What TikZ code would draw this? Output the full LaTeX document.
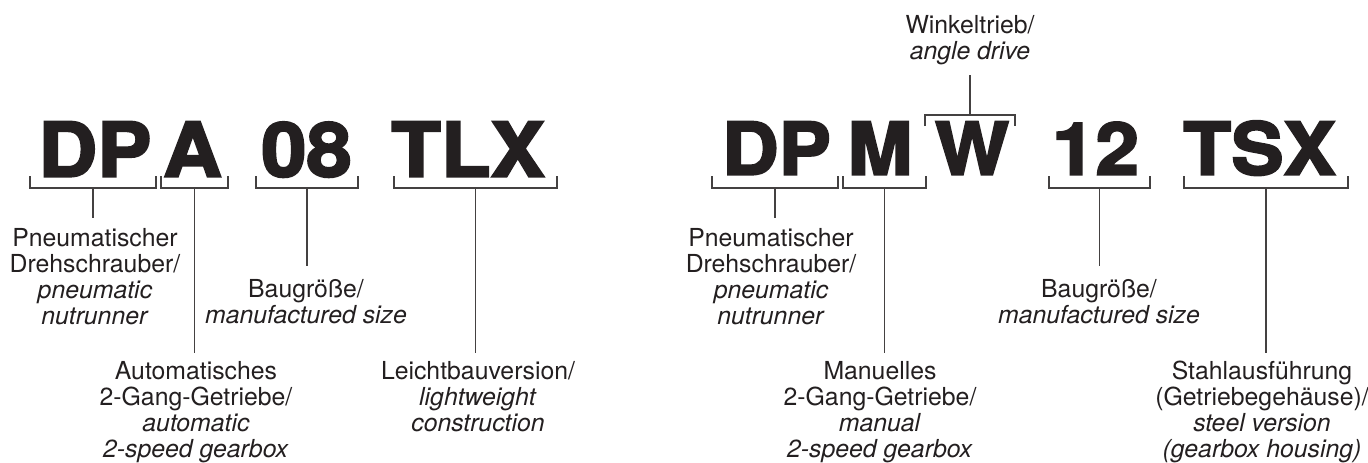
\documentclass[tikz,border=0pt]{standalone}
\usepackage{fontspec}
\setmainfont{TeX Gyre Heros}
\newfontfamily\codefont[FakeStretch=1.08,FakeBold=3]{texgyreheros-bold.otf}
\definecolor{ink}{HTML}{231F20}
\tikzset{
  code/.style={font=\codefont\fontsize{37.6}{40}\selectfont, inner sep=0pt, anchor=base, text=ink},
  coder/.style={code, font=\codefont\fontsize{36.2}{40}\selectfont},
  lbl/.style={align=center, inner sep=0pt, anchor=north, text=ink, font=\fontsize{12.4}{13}\selectfont},
  brk/.style={draw=ink!85, line width=0.6pt},
}
\begin{document}
\begin{tikzpicture}[x=0.5pt,y=-0.5pt]
  \useasboundingbox (0,0) rectangle (1368,462);
  % type code, left
  \node[code] (l-dp)  at (95,176.5)    {DP};
  \node[code] (l-a)   at (192.5,176.5) {A};
  \node[code] (l-08)  at (306.5,176.5) {08};
  \node[code] (l-tlx) at (468,176.5)   {TLX};
  % type code, right
  \node[coder] (r-dp)  at (776.5,174.5)  {DP};
  \node[coder] (r-m)   at (880,174.5)    {M};
  \node[coder] (r-w)   at (972,174.5)    {W};
  \node[coder] (r-12)  at (1095.5,174.5) {12};
  \node[coder] (r-tsx) at (1259.5,174.5) {TSX};
  % brackets under the code
  \foreach \n/\a/\b in {l-dp/30/156, l-a/161/228, l-08/256/358, l-tlx/394/557,
                        r-dp/712/838, r-m/843/926, r-12/1049/1150, r-tsx/1184/1348}{
    \draw[brk] (\a,176) -- (\a,188) -- (\b,188) -- (\b,176);
    \coordinate (\n-b) at ({(\a+\b)/2},188);
  }
  % bracket over W
  \draw[brk] (925,126) -- (925,115) -- (1015,115) -- (1015,126);
  \coordinate (r-w-b) at (970,115);
  % labels
  \node[lbl] (l-dp-t)  at (95,228)  {Pneumatischer\\Drehschrauber/\\\textit{pneumatic}\\\textit{nutrunner}};
  \node[lbl] (l-a-t)   at (196,361) {Automatisches\\2-Gang-Getriebe/\\\textit{automatic}\\\textit{2-speed gearbox}};
  \node[lbl] (l-08-t)  at (306,279) {Baugröße/\\\textit{manufactured size}};
  \node[lbl] (l-tlx-t) at (478,361) {Leichtbauversion/\\\textit{lightweight}\\\textit{construction}};
  \node[lbl] (r-dp-t)  at (771,228) {Pneumatischer\\Drehschrauber/\\\textit{pneumatic}\\\textit{nutrunner}};
  \node[lbl] (r-m-t)   at (880,361) {Manuelles\\2-Gang-Getriebe/\\\textit{manual}\\\textit{2-speed gearbox}};
  \node[lbl] (r-12-t)  at (1099,279) {Baugröße/\\\textit{manufactured size}};
  \node[lbl] (r-tsx-t) at (1262,361) {Stahlausführung\\(Getriebegehäuse)/\\\textit{steel version}\\\textit{(gearbox housing)}};
  \node[lbl] (r-w-t)   at (970,15)  {Winkeltrieb/\\\textit{angle drive}};
  % stems
  \foreach \n/\s in {l-dp/5pt, l-a/4pt, l-08/6.5pt, l-tlx/4pt, r-dp/5pt, r-m/4pt, r-12/6.5pt, r-tsx/4pt}
    \draw[brk, shorten >=\s] (\n-b) -- (\n-b |- \n-t.north);
  \draw[brk, shorten >=5pt] (r-w-b) -- (r-w-b |- r-w-t.south);
\end{tikzpicture}
\end{document}
